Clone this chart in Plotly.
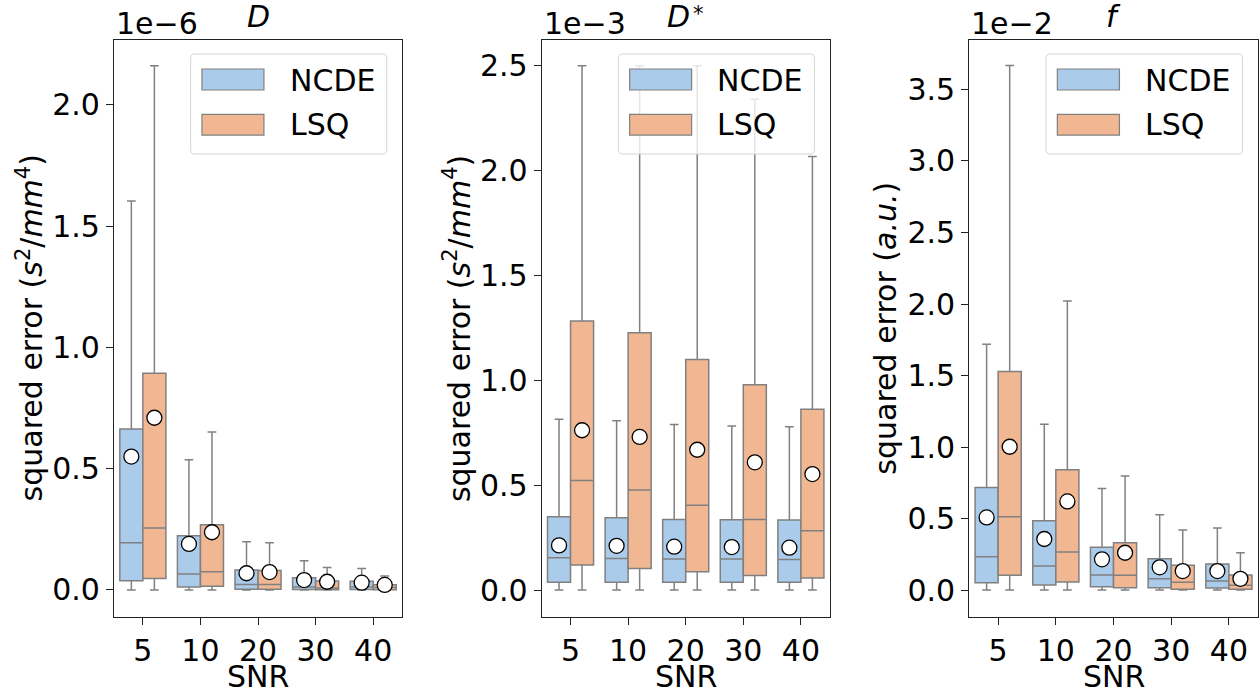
import plotly.graph_objects as go

# SNR levels shown on every panel
snr_labels = ["5", "10", "20", "30", "40"]
methods = ["NCDE", "LSQ"]

# ---- D (values in units of 1e-6 s^2/mm^4) ----
D_ncde_low = [0.0, 0.0, 0.0, 0.0, 0.0]
D_ncde_q1 = [0.038, 0.012, 0.003, 0.002, 0.002]
D_ncde_med = [0.195, 0.066, 0.023, 0.012, 0.012]
D_ncde_q3 = [0.664, 0.224, 0.082, 0.051, 0.036]
D_ncde_high = [1.603, 0.537, 0.199, 0.121, 0.089]
D_ncde_mean = [0.55, 0.19, 0.069, 0.041, 0.030]

D_lsq_low = [0.0, 0.0, 0.0, 0.0, 0.0]
D_lsq_q1 = [0.047, 0.015, 0.003, 0.001, 0.001]
D_lsq_med = [0.256, 0.075, 0.023, 0.008, 0.010]
D_lsq_q3 = [0.893, 0.269, 0.080, 0.037, 0.022]
D_lsq_high = [2.161, 0.651, 0.195, 0.093, 0.058]
D_lsq_mean = [0.71, 0.238, 0.074, 0.034, 0.021]

# ---- D* (values in units of 1e-3 s^2/mm^4) ----
Ds_ncde_low = [0.0, 0.0, 0.0, 0.0, 0.0]
Ds_ncde_q1 = [0.037, 0.037, 0.037, 0.037, 0.037]
Ds_ncde_med = [0.154, 0.151, 0.148, 0.148, 0.146]
Ds_ncde_q3 = [0.350, 0.345, 0.337, 0.335, 0.334]
Ds_ncde_high = [0.814, 0.807, 0.790, 0.782, 0.779]
Ds_ncde_mean = [0.213, 0.211, 0.207, 0.205, 0.202]

Ds_lsq_low = [0.0, 0.0, 0.0, 0.0, 0.0]
Ds_lsq_q1 = [0.119, 0.103, 0.087, 0.070, 0.057]
Ds_lsq_med = [0.523, 0.477, 0.404, 0.337, 0.283]
Ds_lsq_q3 = [1.283, 1.227, 1.100, 0.979, 0.862]
Ds_lsq_high = [2.500, 2.500, 2.500, 2.341, 2.068]
Ds_lsq_mean = [0.762, 0.730, 0.669, 0.609, 0.553]

# ---- f (values in units of 1e-2 a.u.) ----
f_ncde_low = [0.0, 0.0, 0.0, 0.0, 0.0]
f_ncde_q1 = [0.051, 0.035, 0.023, 0.016, 0.014]
f_ncde_med = [0.233, 0.168, 0.105, 0.079, 0.063]
f_ncde_q3 = [0.718, 0.485, 0.299, 0.219, 0.182]
f_ncde_high = [1.718, 1.159, 0.711, 0.527, 0.434]
f_ncde_mean = [0.508, 0.357, 0.215, 0.159, 0.133]

f_lsq_low = [0.0, 0.0, 0.0, 0.0, 0.0]
f_lsq_q1 = [0.103, 0.056, 0.016, 0.005, 0.005]
f_lsq_med = [0.513, 0.266, 0.103, 0.054, 0.033]
f_lsq_q3 = [1.529, 0.841, 0.331, 0.173, 0.105]
f_lsq_high = [3.667, 2.021, 0.797, 0.420, 0.261]
f_lsq_mean = [1.002, 0.620, 0.261, 0.133, 0.079]

panels = [
    {
        "title": "D", "star": False, "exp": "1e\u22126",
        "ylabel": "squared error (<i>s</i><sup>2</sup>/<i>mm</i><sup>4</sup>)",
        "yrange": [-0.11, 2.267], "ytick_max": 2.0,
        "NCDE": (D_ncde_low, D_ncde_q1, D_ncde_med, D_ncde_q3, D_ncde_high, D_ncde_mean),
        "LSQ": (D_lsq_low, D_lsq_q1, D_lsq_med, D_lsq_q3, D_lsq_high, D_lsq_mean),
    },
    {
        "title": "D", "star": True, "exp": "1e\u22123",
        "ylabel": "squared error (<i>s</i><sup>2</sup>/<i>mm</i><sup>4</sup>)",
        "yrange": [-0.127, 2.623], "ytick_max": 2.5,
        "NCDE": (Ds_ncde_low, Ds_ncde_q1, Ds_ncde_med, Ds_ncde_q3, Ds_ncde_high, Ds_ncde_mean),
        "LSQ": (Ds_lsq_low, Ds_lsq_q1, Ds_lsq_med, Ds_lsq_q3, Ds_lsq_high, Ds_lsq_mean),
    },
    {
        "title": "f", "star": False, "exp": "1e\u22122",
        "ylabel": "squared error (<i>a.u.</i>)",
        "yrange": [-0.186, 3.846], "ytick_max": 3.5,
        "NCDE": (f_ncde_low, f_ncde_q1, f_ncde_med, f_ncde_q3, f_ncde_high, f_ncde_mean),
        "LSQ": (f_lsq_low, f_lsq_q1, f_lsq_med, f_lsq_q3, f_lsq_high, f_lsq_mean),
    },
]

colors = {"NCDE": "#abcbea", "LSQ": "#f0b792"}
offsets = {"NCDE": -0.2, "LSQ": 0.2}
box_width = 0.4
line_gray = "#808080"
FONT = "DejaVu Sans"
FS = 30

x_domains = [[0.0906, 0.3193], [0.4303, 0.6590], [0.7699, 0.9990]]
y_domain = [0.1165, 0.9427]

fig = go.Figure()
shapes = []
annotations = []

for i, p in enumerate(panels):
    n = "" if i == 0 else str(i + 1)
    xa, ya = "x" + n, "y" + n
    for m in methods:
        low, q1, med, q3, high, mean = p[m]
        xs = [k + offsets[m] for k in range(len(snr_labels))]
        fig.add_trace(go.Box(
            x=xs, lowerfence=low, q1=q1, median=med, q3=q3, upperfence=high,
            width=box_width, whiskerwidth=0.38,
            fillcolor=colors[m], line=dict(color=line_gray, width=1.5),
            boxpoints=False, showlegend=False, hoverinfo="skip",
            xaxis=xa, yaxis=ya,
        ))
        fig.add_trace(go.Scatter(
            x=xs, y=mean, mode="markers",
            marker=dict(symbol="circle", size=15, color="white",
                        line=dict(color="black", width=1.3)),
            showlegend=False, hoverinfo="skip", xaxis=xa, yaxis=ya,
        ))

    nticks = int(round(p["ytick_max"] / 0.5)) + 1
    tickvals = [0.5 * k for k in range(nticks)]
    axis_common = dict(
        showline=True, linecolor="#222222", linewidth=1.3, mirror=True,
        ticks="outside", ticklen=7, tickwidth=1.3, tickcolor="#222222",
        showgrid=False, zeroline=False,
        tickfont=dict(family=FONT, size=FS, color="black"),
    )
    fig.update_layout({
        "xaxis" + n: dict(
            domain=x_domains[i], range=[-0.5, 4.5], anchor=ya,
            tickvals=list(range(len(snr_labels))), ticktext=snr_labels,
            **axis_common),
        "yaxis" + n: dict(
            domain=y_domain, range=p["yrange"], anchor=xa,
            tickvals=tickvals, tickformat=".1f", **axis_common),
    })

    xd, yd = xa + " domain", ya + " domain"
    # x-axis title
    annotations.append(dict(text="SNR", xref=xd, yref="paper", x=0.5, y=0, yshift=2,
                            xanchor="center", yanchor="bottom", showarrow=False,
                            font=dict(family=FONT, size=FS, color="black")))
    # panel title (italic symbol, optional superscript star) and scale factor
    title_shift = -7 if p["star"] else 0
    annotations.append(dict(text="<i>" + p["title"] + "</i>", xref=xd, yref=yd, x=0.5, y=1,
                            xshift=title_shift, yshift=4,
                            xanchor="center", yanchor="bottom", showarrow=False,
                            font=dict(family=FONT, size=FS, color="black")))
    if p["star"]:
        annotations.append(dict(text="*", xref=xd, yref=yd, x=0.5, y=1,
                                xshift=13, yshift=40,
                                xanchor="center", yanchor="top", showarrow=False,
                                font=dict(family=FONT, size=21, color="black")))
    annotations.append(dict(text=p["exp"], xref=xd, yref=yd, x=0, y=1, yshift=-3,
                            xanchor="left", yanchor="bottom", showarrow=False,
                            font=dict(family=FONT, size=FS, color="black")))
    # y-axis title
    annotations.append(dict(text=p["ylabel"], xref=xd, yref=yd, x=0, y=0.5, xshift=-84,
                            xanchor="center", yanchor="middle", textangle=-90,
                            showarrow=False, font=dict(family=FONT, size=FS, color="black")))

    # legend frame
    lx0, lx1, ly0, ly1 = 0.266, 0.947, 0.8023, 0.9757
    rx, ry = 0.014, 0.007
    path = (f"M {lx0+rx},{ly0} L {lx1-rx},{ly0} Q {lx1},{ly0} {lx1},{ly0+ry} "
            f"L {lx1},{ly1-ry} Q {lx1},{ly1} {lx1-rx},{ly1} L {lx0+rx},{ly1} "
            f"Q {lx0},{ly1} {lx0},{ly1-ry} L {lx0},{ly0+ry} Q {lx0},{ly0} {lx0+rx},{ly0} Z")
    shapes.append(dict(type="path", path=path, xref=xd, yref=yd, layer="above",
                       fillcolor="rgba(255,255,255,0.8)", line=dict(color="#d5d5d5", width=1)))
    patch_x0 = lx0 + 11.3 / 288
    patch_x1 = patch_x0 + 62 / 288
    text_x = lx0 + 97 / 288
    rows = [(methods[0], 0.9133, 0.9497, 0.9306), (methods[1], 0.8352, 0.8711, 0.8526)]
    for m, y0, y1, yc in rows:
        shapes.append(dict(type="rect", xref=xd, yref=yd, layer="above",
                           x0=patch_x0, x1=patch_x1, y0=y0, y1=y1,
                           fillcolor=colors[m], line=dict(color=line_gray, width=1.2)))
        annotations.append(dict(text=m, xref=xd, yref=yd, x=text_x, y=yc,
                                xanchor="left", yanchor="middle", showarrow=False,
                                font=dict(family=FONT, size=FS, color="black")))

fig.update_layout(
    width=1259, height=698,
    margin=dict(l=0, r=0, t=0, b=0),
    paper_bgcolor="white", plot_bgcolor="white",
    boxmode="overlay",
    shapes=shapes, annotations=annotations,
    font=dict(family=FONT, size=FS, color="black"),
)

fig.write_html("out.html")
